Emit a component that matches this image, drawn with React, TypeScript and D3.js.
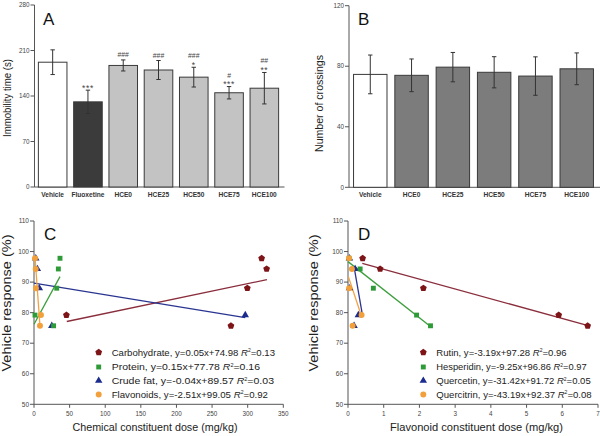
import React from "react";
import { scaleBand, scaleLinear, symbol, symbolSquare, symbolTriangle, symbolCircle } from "d3";

// panel A - forced swim immobility
const catsA = ["Vehicle", "Fluoxetine", "HCE0", "HCE25", "HCE50", "HCE75", "HCE100"];
const meanA = [192, 131, 187, 180, 169, 145, 152];
const sdA = [19, 18, 8.5, 14.6, 15.2, 9.5, 24.2];
const starsA = ["", "***", "", "", "*", "***", "**"];
const hashA = ["", "", "###", "###", "###", "#", "##"];
const ticksA = [0, 70, 140, 210, 280];

// panel B - locomotor crossings
const catsB = ["Vehicle", "HCE0", "HCE25", "HCE50", "HCE75", "HCE100"];
const meanB = [74.6, 74, 79.4, 76, 73.5, 78.3];
const sdB = [12.8, 10.8, 9.7, 10.3, 12.7, 10.5];
const ticksB = [0, 40, 80, 120];

// vehicle response of HCE0, HCE25, HCE50, HCE75, HCE100 (%)
const response = [97.8, 94.3, 88.0, 75.7, 79.2];

// panel C - chemical constituents dose (mg/kg)
const carbDose = [319.6, 326.6, 299.5, 276.5, 45.5];
const protDose = [36.5, 34.2, 31.9, 27.5, 1.4];
const fatDose = [2.5, 4.7, 7.5, 25.0, 296.6];
const flavDose = [1.4, 2.4, 2.8, 8.4, 9.8];
const namesC = ["Carbohydrate", "Protein", "Crude fat", "Flavonoids"];
const eqC = ["y=0.05x+74.98", "y=0.15x+77.78", "y=-0.04x+89.57", "y=-2.51x+99.05"];
const r2C = ["0.13", "0.16", "0.03", "0.92"];
// fit line ends [x1, y1, x2, y2]
const fitC = [
  [46, 77.1, 327, 90.8],
  [0, 76.2, 36.5, 91.8],
  [0, 89.7, 296.6, 78.4],
  [1.4, 98.3, 8.4, 75.6],
];
const ticksCx = [0, 50, 100, 150, 200, 250, 300, 350];

// panel D - flavonoid constituents dose (mg/kg)
const rutinDose = [0.41, 0.9, 2.11, 6.71, 5.9];
const hespDose = [0.03, 0.34, 0.71, 2.31, 1.92];
const quercDose = [0.04, 0.2, 0.04, 0.17, 0.29];
const qtrinDose = [0.03, 0.11, 0.03, 0.13, 0.38];
const namesD = ["Rutin", "Hesperidin", "Quercetin", "Quercitrin"];
const eqD = ["y=-3.19x+97.28", "y=-9.25x+96.86", "y=-31.42x+91.72", "y=-43.19x+92.37"];
const r2D = ["0.96", "0.97", "0.05", "0.08"];
const fitD = [
  [0.4, 96.1, 6.75, 75.7],
  [0, 96.7, 2.31, 75.5],
  [0.17, 95, 0.4, 79.5],
  [0.01, 91.8, 0.36, 79.5],
];
const ticksDx = [0, 1, 2, 3, 4, 5, 6, 7];
const ticksY = [50, 60, 70, 80, 90, 100, 110];

const font = "'Liberation Sans', Arial, sans-serif";
const axisCol = "#555";
const textCol = "#444";
const markCols = ["#7d1518", "#2f9a38", "#1b2b8e", "#f2a03c"];
const lineCols = ["#8a2d3c", "#3c9e3c", "#2a3590", "#f1a445"];

const symbolPentagon = {
  draw(ctx: any, size: number) {
    const r = Math.sqrt(size / 2.378);
    for (let i = 0; i < 5; i++) {
      const a = -Math.PI / 2 + (i * 2 * Math.PI) / 5;
      const px = r * Math.cos(a), py = r * Math.sin(a);
      if (i === 0) ctx.moveTo(px, py);
      else ctx.lineTo(px, py);
    }
    ctx.closePath();
  },
};
const shapes = [
  symbol().type(symbolPentagon as any).size(30)(),
  symbol().type(symbolSquare).size(24)(),
  symbol().type(symbolTriangle).size(24)(),
  symbol().type(symbolCircle).size(28)(),
];

function YAxis({ x, scale, ticks, fs = 6.3 }: any) {
  const [r0, r1] = scale.range();
  return (
    <g>
      <line x1={x} x2={x} y1={r0} y2={r1} stroke={axisCol} strokeWidth={1} />
      {ticks.map((t: number) => (
        <g key={t}>
          <line x1={x - 4} x2={x} y1={scale(t)} y2={scale(t)} stroke={axisCol} />
          <text x={x - 5} y={scale(t)} dy="0.35em" textAnchor="end" fontSize={fs} fill={textCol}>
            {t}
          </text>
        </g>
      ))}
    </g>
  );
}

function BarPanel({ cats, mean, sd, xRange, yScale, ticks, fills, label, letter, letterX, yLabel, yLabelX, yLabelLen, stars, hash }: any) {
  const x = scaleBand().domain(cats).range(xRange).paddingInner(0.19).paddingOuter(0.11);
  const y0 = yScale.range()[0];
  return (
    <g>
      <YAxis x={xRange[0]} scale={yScale} ticks={ticks} />
      <line x1={xRange[0]} x2={xRange[1] + 2} y1={y0} y2={y0} stroke={axisCol} />
      {cats.map((c: string, i: number) => {
        const bx = x(c)!;
        const cx = bx + x.bandwidth() / 2;
        const top = yScale(mean[i] + sd[i]);
        const bot = yScale(mean[i] - sd[i]);
        return (
          <g key={c}>
            <rect x={bx} y={yScale(mean[i])} width={x.bandwidth()} height={y0 - yScale(mean[i])} fill={fills[i]} stroke="#3a3a3a" strokeWidth={1} />
            <line x1={cx} x2={cx} y1={top} y2={bot} stroke="#333" />
            <line x1={cx - 2.2} x2={cx + 2.2} y1={top} y2={top} stroke="#333" />
            <line x1={cx - 2.2} x2={cx + 2.2} y1={bot} y2={bot} stroke="#333" />
            {stars && stars[i] && (
              <text x={cx} y={top + 0.5} textAnchor="middle" fontSize={8.5} fill={textCol} letterSpacing={0.6}>{stars[i]}</text>
            )}
            {hash && hash[i] && (
              <text x={cx} y={top - (stars[i] ? 9 : 2.6)} textAnchor="middle" fontSize={6.8} fill={textCol}>{hash[i]}</text>
            )}
            <text x={cx} y={196.5} textAnchor="middle" fontSize={6.6} fontWeight="bold" fill="#333">{c}</text>
          </g>
        );
      })}
      <text x={letterX} y={25} fontSize={17} fill="#111">{letter}</text>
      <text transform={`translate(${yLabelX},${label}) rotate(-90)`} textAnchor="middle" fontSize={11.5} fill="#222" textLength={yLabelLen} lengthAdjust="spacingAndGlyphs">
        {yLabel}
      </text>
    </g>
  );
}

function ScatterPanel({ xScale, yScale, xTicks, doses, fits, names, eqs, r2s, letter, letterX, xLabel, xLabelX, xLabelLen, yLabelX, legX, legEnds }: any) {
  const [x0, x1] = xScale.range();
  const y0 = yScale.range()[0];
  const rowY = [352.3, 367, 380.7, 394.5];
  return (
    <g>
      <YAxis x={x0} scale={yScale} ticks={ticksY} fs={6.5} />
      <line x1={x0} x2={x1} y1={y0} y2={y0} stroke={axisCol} />
      {xTicks.map((t: number) => (
        <g key={t}>
          <line x1={xScale(t)} x2={xScale(t)} y1={y0} y2={y0 + 3.5} stroke={axisCol} />
          <text x={xScale(t)} y={y0 + 9.5} dy="0.35em" textAnchor="middle" fontSize={6.3} fill={textCol}>{t}</text>
        </g>
      ))}
      {fits.map((f: number[], i: number) => (
        <line key={"f" + i} x1={xScale(f[0])} y1={yScale(f[1])} x2={xScale(f[2])} y2={yScale(f[3])} stroke={lineCols[i]} strokeWidth={1.3} />
      ))}
      {[2, 1, 0, 3].map((s) =>
        doses[s].map((d: number, j: number) => (
          <path key={s + "-" + j} d={shapes[s]!} transform={`translate(${xScale(d)},${yScale(response[j])})`} fill={markCols[s]} />
        ))
      )}
      {names.map((n: string, i: number) => (
        <g key={n}>
          <path d={shapes[i]!} transform={`translate(${legX},${rowY[i]})`} fill={markCols[i]} />
          <text x={legX + 13} y={rowY[i] + 3.4} fontSize={9.5} fill="#222" textLength={legEnds[i] - legX - 13} lengthAdjust="spacingAndGlyphs">
            {n}, {eqs[i]} <tspan fontStyle="italic">R</tspan>
            <tspan fontSize={5} dy={-3.5}>2</tspan>
            <tspan dy={3.5}>={r2s[i]}</tspan>
          </text>
        </g>
      ))}
      <text x={letterX} y={240} fontSize={17} fill="#111">{letter}</text>
      <text x={xLabelX} y={431} textAnchor="middle" fontSize={11.5} fill="#222" textLength={xLabelLen} lengthAdjust="spacingAndGlyphs">{xLabel}</text>
      <text transform={`translate(${yLabelX},303) rotate(-90)`} textAnchor="middle" fontSize={12.5} fill="#222" textLength={137} lengthAdjust="spacingAndGlyphs">
        Vehicle response (%)
      </text>
    </g>
  );
}

export default function App() {
  const yA = scaleLinear().domain([0, 280]).range([187, 5]);
  const yB = scaleLinear().domain([0, 120]).range([187.3, 5.7]);
  const xC = scaleLinear().domain([0, 350]).range([34, 283.3]);
  const yC = scaleLinear().domain([50, 110]).range([404.3, 221]);
  const xD = scaleLinear().domain([0, 7]).range([348, 598]);
  const yD = scaleLinear().domain([50, 110]).range([404.3, 221]);
  const fillsA = ["#ffffff", "#3b3b3b", "#c3c3c3", "#c3c3c3", "#c3c3c3", "#c3c3c3", "#c3c3c3"];
  const fillsB = ["#ffffff", "#7c7c7c", "#7c7c7c", "#7c7c7c", "#7c7c7c", "#7c7c7c"];
  return (
    <svg width={600} height={436} style={{ position: "absolute", left: 0, top: 0, background: "#fff" }} fontFamily={font}>
      <rect width={600} height={436} fill="#fff" />
      <BarPanel cats={catsA} mean={meanA} sd={sdA} xRange={[34.5, 282.5]} yScale={yA} ticks={ticksA} fills={fillsA}
        label={98} letter="A" letterX={43} yLabel="Immobility time (s)" yLabelX={10.5} yLabelLen={78} stars={starsA} hash={hashA} />
      <BarPanel cats={catsB} mean={meanB} sd={sdB} xRange={[349, 598]} yScale={yB} ticks={ticksB} fills={fillsB}
        label={103.5} letter="B" letterX={358} yLabel="Number of crossings" yLabelX={323} yLabelLen={97} />
      <ScatterPanel xScale={xC} yScale={yC} xTicks={ticksCx} doses={[carbDose, protDose, fatDose, flavDose]} fits={fitC}
        names={namesC} eqs={eqC} r2s={r2C} letter="C" letterX={44} xLabel="Chemical constituent dose  (mg/kg)" xLabelX={155}
        xLabelLen={165} yLabelX={11} legX={98.7} legEnds={[275, 260, 274, 268]} />
      <ScatterPanel xScale={xD} yScale={yD} xTicks={ticksDx} doses={[rutinDose, hespDose, quercDose, qtrinDose]} fits={fitD}
        names={namesD} eqs={eqD} r2s={r2D} letter="D" letterX={358} xLabel="Flavonoid constituent dose (mg/kg)" xLabelX={476.5}
        xLabelLen={173} yLabelX={318} legX={423.3} legEnds={[566.7, 586.7, 590.7, 591.7]} />
</svg>
  );
}
